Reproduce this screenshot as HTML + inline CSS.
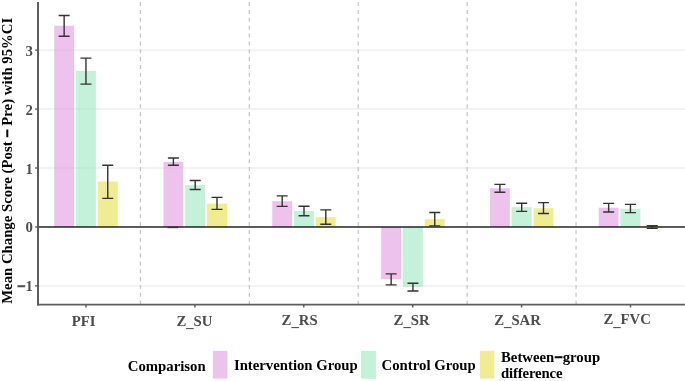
<!DOCTYPE html><html><head><meta charset="utf-8"><style>html,body{margin:0;padding:0;background:#fff;}svg{display:block;will-change:transform;}text{font-family:"Liberation Serif",serif;font-weight:bold;}</style></head><body>
<svg width="685" height="381" viewBox="0 0 685 381">
<rect width="685" height="381" fill="#fff"/>
<line x1="39" x2="685" y1="50.16" y2="50.16" stroke="#f3f3f3" stroke-width="2"/>
<line x1="39" x2="685" y1="109.09" y2="109.09" stroke="#f3f3f3" stroke-width="2"/>
<line x1="39" x2="685" y1="168.02" y2="168.02" stroke="#f3f3f3" stroke-width="2"/>
<line x1="39" x2="685" y1="285.88" y2="285.88" stroke="#f3f3f3" stroke-width="2"/>
<line x1="140.45" x2="140.45" y1="2.1" y2="304" stroke="#c4c4c4" stroke-width="1.2" stroke-dasharray="4.05 3.807"/>
<line x1="249.35" x2="249.35" y1="2.1" y2="304" stroke="#c4c4c4" stroke-width="1.2" stroke-dasharray="4.05 3.807"/>
<line x1="358.25" x2="358.25" y1="2.1" y2="304" stroke="#c4c4c4" stroke-width="1.2" stroke-dasharray="4.05 3.807"/>
<line x1="467.15" x2="467.15" y1="2.1" y2="304" stroke="#c4c4c4" stroke-width="1.2" stroke-dasharray="4.05 3.807"/>
<line x1="576.05" x2="576.05" y1="2.1" y2="304" stroke="#c4c4c4" stroke-width="1.2" stroke-dasharray="4.05 3.807"/>
<rect x="54.23" y="25.70" width="19.85" height="201.25" fill="#e19be3" fill-opacity="0.6"/>
<rect x="76.03" y="71.00" width="19.85" height="155.95" fill="#9be8c1" fill-opacity="0.6"/>
<rect x="97.83" y="181.60" width="19.85" height="45.35" fill="#e6df48" fill-opacity="0.6"/>
<rect x="163.47" y="162.00" width="19.85" height="64.95" fill="#e19be3" fill-opacity="0.6"/>
<rect x="185.27" y="185.10" width="19.85" height="41.85" fill="#9be8c1" fill-opacity="0.6"/>
<rect x="207.07" y="203.65" width="19.85" height="23.30" fill="#e6df48" fill-opacity="0.6"/>
<rect x="272.27" y="201.20" width="19.85" height="25.75" fill="#e19be3" fill-opacity="0.6"/>
<rect x="294.07" y="211.00" width="19.85" height="15.95" fill="#9be8c1" fill-opacity="0.6"/>
<rect x="315.88" y="217.10" width="19.85" height="9.85" fill="#e6df48" fill-opacity="0.6"/>
<rect x="381.22" y="226.95" width="19.85" height="52.25" fill="#e19be3" fill-opacity="0.6"/>
<rect x="403.02" y="226.95" width="19.85" height="59.85" fill="#9be8c1" fill-opacity="0.6"/>
<rect x="424.82" y="219.20" width="19.85" height="7.75" fill="#e6df48" fill-opacity="0.6"/>
<rect x="489.98" y="188.30" width="19.85" height="38.65" fill="#e19be3" fill-opacity="0.6"/>
<rect x="511.78" y="207.20" width="19.85" height="19.75" fill="#9be8c1" fill-opacity="0.6"/>
<rect x="533.58" y="208.20" width="19.85" height="18.75" fill="#e6df48" fill-opacity="0.6"/>
<rect x="598.73" y="207.70" width="19.85" height="19.25" fill="#e19be3" fill-opacity="0.6"/>
<rect x="620.53" y="208.70" width="19.85" height="18.25" fill="#9be8c1" fill-opacity="0.6"/>
<rect x="642.33" y="225.90" width="19.85" height="1.05" fill="#e6df48" fill-opacity="0.6"/>
<line x1="38" x2="685" y1="226.95" y2="226.95" stroke="#000" stroke-opacity="0.64" stroke-width="1.9"/>
<path d="M58.65 15.5H69.65M64.15 15.5V36.3M58.65 36.3H69.65" stroke="#333" stroke-width="1.4" fill="none"/>
<path d="M80.45 58.1H91.45M85.95 58.1V84.1M80.45 84.1H91.45" stroke="#333" stroke-width="1.4" fill="none"/>
<path d="M102.25 165.3H113.25M107.75 165.3V198.4M102.25 198.4H113.25" stroke="#333" stroke-width="1.4" fill="none"/>
<path d="M167.90 158.0H178.90M173.40 158.0V165.3M167.90 165.3H178.90" stroke="#333" stroke-width="1.4" fill="none"/>
<path d="M189.70 180.5H200.70M195.20 180.5V189.5M189.70 189.5H200.70" stroke="#333" stroke-width="1.4" fill="none"/>
<path d="M211.50 197.4H222.50M217.00 197.4V209.4M211.50 209.4H222.50" stroke="#333" stroke-width="1.4" fill="none"/>
<path d="M276.70 195.9H287.70M282.20 195.9V206.4M276.70 206.4H287.70" stroke="#333" stroke-width="1.4" fill="none"/>
<path d="M298.50 206.3H309.50M304.00 206.3V215.7M298.50 215.7H309.50" stroke="#333" stroke-width="1.4" fill="none"/>
<path d="M320.30 209.9H331.30M325.80 209.9V224.2M320.30 224.2H331.30" stroke="#333" stroke-width="1.4" fill="none"/>
<path d="M385.65 273.9H396.65M391.15 273.9V284.9M385.65 284.9H396.65" stroke="#333" stroke-width="1.4" fill="none"/>
<path d="M407.45 283.3H418.45M412.95 283.3V291.0M407.45 291.0H418.45" stroke="#333" stroke-width="1.4" fill="none"/>
<path d="M429.25 212.5H440.25M434.75 212.5V225.9M429.25 225.9H440.25" stroke="#333" stroke-width="1.4" fill="none"/>
<path d="M494.40 184.4H505.40M499.90 184.4V192.3M494.40 192.3H505.40" stroke="#333" stroke-width="1.4" fill="none"/>
<path d="M516.20 203.2H527.20M521.70 203.2V211.4M516.20 211.4H527.20" stroke="#333" stroke-width="1.4" fill="none"/>
<path d="M538.00 202.6H549.00M543.50 202.6V213.5M538.00 213.5H549.00" stroke="#333" stroke-width="1.4" fill="none"/>
<path d="M603.15 203.4H614.15M608.65 203.4V212.0M603.15 212.0H614.15" stroke="#333" stroke-width="1.4" fill="none"/>
<path d="M624.95 204.4H635.95M630.45 204.4V212.6M624.95 212.6H635.95" stroke="#333" stroke-width="1.4" fill="none"/>
<path d="M646.75 225.7H657.75M652.25 225.7V228.4M646.75 228.4H657.75" stroke="#333" stroke-width="1.4" fill="none"/>
<path d="M167.5 227.45H178.2" stroke="#333" stroke-width="1.4"/>
<line x1="38" x2="38" y1="1.9" y2="305.45" stroke="#5e5e5e" stroke-width="2"/>
<line x1="37" x2="685" y1="304.7" y2="304.7" stroke="#5e5e5e" stroke-width="1.7"/>
<line x1="35.2" x2="38" y1="50.16" y2="50.16" stroke="#5e5e5e" stroke-width="1.5"/>
<text x="32.8" y="55.66" text-anchor="end" font-size="14.75" fill="#4d4d4d">3</text>
<line x1="35.2" x2="38" y1="109.09" y2="109.09" stroke="#5e5e5e" stroke-width="1.5"/>
<text x="32.8" y="114.59" text-anchor="end" font-size="14.75" fill="#4d4d4d">2</text>
<line x1="35.2" x2="38" y1="168.02" y2="168.02" stroke="#5e5e5e" stroke-width="1.5"/>
<text x="32.8" y="173.52" text-anchor="end" font-size="14.75" fill="#4d4d4d">1</text>
<line x1="35.2" x2="38" y1="226.95" y2="226.95" stroke="#5e5e5e" stroke-width="1.5"/>
<text x="32.8" y="232.45" text-anchor="end" font-size="14.75" fill="#4d4d4d">0</text>
<line x1="35.2" x2="38" y1="285.88" y2="285.88" stroke="#5e5e5e" stroke-width="1.5"/>
<text x="32.8" y="291.38" text-anchor="end" font-size="14.75" fill="#4d4d4d"><tspan stroke="#4d4d4d" stroke-width="0.9">−</tspan>1</text>
<line x1="86.00" x2="86.00" y1="304" y2="307.5" stroke="#5e5e5e" stroke-width="1.5"/>
<line x1="194.90" x2="194.90" y1="304" y2="307.5" stroke="#5e5e5e" stroke-width="1.5"/>
<line x1="303.80" x2="303.80" y1="304" y2="307.5" stroke="#5e5e5e" stroke-width="1.5"/>
<line x1="412.70" x2="412.70" y1="304" y2="307.5" stroke="#5e5e5e" stroke-width="1.5"/>
<line x1="521.60" x2="521.60" y1="304" y2="307.5" stroke="#5e5e5e" stroke-width="1.5"/>
<line x1="630.50" x2="630.50" y1="304" y2="307.5" stroke="#5e5e5e" stroke-width="1.5"/>
<text x="71.7" y="325.9" font-size="14.75" fill="#4d4d4d">PFI</text>
<text x="176.4" y="325.7" font-size="14.75" fill="#4d4d4d">Z<tspan dy="1.4">_</tspan><tspan dy="-1.4">SU</tspan></text>
<text x="281.6" y="324.8" font-size="14.75" fill="#4d4d4d">Z<tspan dy="1.4">_</tspan><tspan dy="-1.4">RS</tspan></text>
<text x="393.6" y="324.5" font-size="14.75" fill="#4d4d4d">Z<tspan dy="1.4">_</tspan><tspan dy="-1.4">SR</tspan></text>
<text x="494.2" y="324.8" font-size="14.75" fill="#4d4d4d">Z<tspan dy="1.4">_</tspan><tspan dy="-1.4">SAR</tspan></text>
<text x="603.4" y="324.3" font-size="14.75" fill="#4d4d4d">Z<tspan dy="1.4">_</tspan><tspan dy="-1.4">FVC</tspan></text>
<text transform="translate(11.6,160.8) rotate(-90)" text-anchor="middle" font-size="14.75" fill="#000">Mean Change Score (Post <tspan stroke="#000" stroke-width="0.9">−</tspan> Pre) with 95%CI</text>
<text x="127.8" y="370.5" font-size="14.75" fill="#000">Comparison</text>
<rect x="212.9" y="350.9" width="14.5" height="27.7" fill="#edc3ee"/>
<text x="233.9" y="370.2" font-size="14.75" fill="#000">Intervention Group</text>
<rect x="361.0" y="350.9" width="14.9" height="27.9" fill="#c3f1da"/>
<text x="381.6" y="370.2" font-size="14.75" fill="#000">Control Group</text>
<rect x="479.9" y="350.8" width="14.4" height="27.8" fill="#f0ec91"/>
<text x="501.0" y="362.2" font-size="14.75" fill="#000">Between<tspan stroke="#000" stroke-width="0.9">−</tspan>group</text>
<text x="501.0" y="377.7" font-size="14.75" fill="#000" letter-spacing="-0.15">difference</text>
</svg></body></html>
